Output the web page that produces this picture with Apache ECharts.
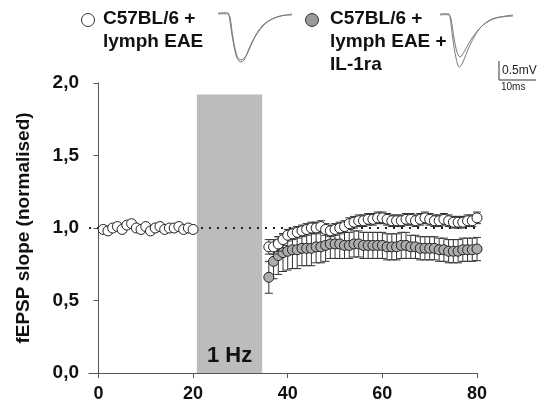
<!DOCTYPE html>
<html>
<head>
<meta charset="utf-8">
<script src="https://cdn.jsdelivr.net/npm/echarts@6/dist/echarts.min.js"></script>
<style>html,body{margin:0;padding:0;background:#fff;}#chart{width:542px;height:403px;}</style>
</head>
<body>
<div id="chart"></div>
<script>
// ---- data ----
const baseTime = [1,2,3,4,5,6,7,8,9,10,11,12,13,14,15,16,17,18,19,20];
const baseWhite = [0.99,0.98,1.00,1.01,0.99,1.02,1.03,1.00,0.99,1.01,0.98,1.00,1.01,0.99,1.00,1.00,1.01,0.99,1.00,0.99];
const baseWhiteErr = [0.02,0.02,0.02,0.02,0.02,0.02,0.02,0.02,0.02,0.02,0.02,0.02,0.02,0.02,0.02,0.02,0.02,0.02,0.02,0.02];
const postTime = [36,37,38,39,40,41,42,43,44,45,46,47,48,49,50,51,52,53,54,55,56,57,58,59,60,61,62,63,64,65,66,67,68,69,70,71,72,73,74,75,76,77,78,79,80];
const postWhite = [0.87,0.87,0.89,0.92,0.95,0.96,0.97,0.98,0.99,1.00,1.00,1.01,0.99,0.98,0.99,1.00,1.01,1.03,1.04,1.05,1.05,1.06,1.06,1.07,1.07,1.06,1.05,1.05,1.05,1.06,1.06,1.05,1.06,1.07,1.06,1.05,1.05,1.06,1.05,1.04,1.04,1.04,1.05,1.05,1.07];
const postWhiteErr = [0.05,0.05,0.05,0.04,0.04,0.04,0.04,0.04,0.04,0.04,0.04,0.04,0.04,0.04,0.04,0.04,0.04,0.04,0.04,0.04,0.04,0.04,0.04,0.04,0.04,0.04,0.04,0.04,0.04,0.04,0.04,0.04,0.04,0.04,0.04,0.04,0.04,0.04,0.04,0.04,0.04,0.04,0.04,0.04,0.04];
const postGray = [0.66,0.77,0.81,0.83,0.84,0.85,0.85,0.86,0.86,0.86,0.87,0.87,0.88,0.89,0.89,0.89,0.88,0.88,0.89,0.89,0.88,0.88,0.88,0.88,0.88,0.87,0.87,0.87,0.88,0.88,0.87,0.87,0.86,0.86,0.86,0.86,0.85,0.85,0.84,0.84,0.84,0.85,0.85,0.85,0.855];
const postGrayErr = [0.11,0.12,0.13,0.13,0.13,0.13,0.13,0.12,0.12,0.12,0.11,0.11,0.11,0.10,0.10,0.10,0.09,0.09,0.09,0.09,0.09,0.09,0.09,0.09,0.09,0.09,0.09,0.09,0.09,0.09,0.08,0.08,0.08,0.08,0.08,0.08,0.08,0.08,0.08,0.08,0.08,0.08,0.08,0.08,0.08];
const xTicks = [0,20,40,60,80];
const stimStart = 20.8, stimEnd = 34.6, stimTop = 1.92;
const stimLabel = '1 Hz';
const yName = 'fEPSP slope (normalised)';
const legend1 = 'C57BL/6 +\nlymph EAE';
const legend2 = 'C57BL/6 +\nlymph EAE +\nIL-1ra';

// ---- build ----
const FONT = '"Liberation Sans", Arial, sans-serif';
function pts(t, v) { return t.map((x, i) => [x, v[i]]); }
function errs(t, v, e) { return t.map((x, i) => [x, v[i] - e[i], v[i] + e[i]]); }
const whitePts = pts(baseTime, baseWhite).concat(pts(postTime, postWhite));
const whiteErr = errs(baseTime, baseWhite, baseWhiteErr).concat(errs(postTime, postWhite, postWhiteErr));
const grayPts = pts(postTime, postGray);
const grayErr = errs(postTime, postGray, postGrayErr);

function errRender(params, api) {
  const x = api.value(0);
  const lo = api.coord([x, api.value(1)]);
  const hi = api.coord([x, api.value(2)]);
  const w = 4;
  const st = { stroke: '#333', lineWidth: 1 };
  return { type: 'group', children: [
    { type: 'line', shape: { x1: lo[0], y1: lo[1], x2: hi[0], y2: hi[1] }, style: st },
    { type: 'line', shape: { x1: lo[0] - w, y1: lo[1], x2: lo[0] + w, y2: lo[1] }, style: st },
    { type: 'line', shape: { x1: hi[0] - w, y1: hi[1], x2: hi[0] + w, y2: hi[1] }, style: st }
  ]};
}

const chart = echarts.init(document.getElementById('chart'));
const traceStyle = { stroke: '#7a7a7a', lineWidth: 1, fill: null };
chart.setOption({
  animation: false,
  backgroundColor: '#fff',
  grid: { left: 89, right: 65, top: 83, bottom: 30, containLabel: false },
  xAxis: {
    type: 'value', min: -2, max: 80,
    splitLine: { show: false },
    axisLine: { lineStyle: { color: '#555', width: 1 } },
    axisTick: { customValues: xTicks, length: 5, lineStyle: { color: '#555' } },
    axisLabel: { customValues: xTicks, color: '#111', fontFamily: FONT, fontWeight: 'bold', fontSize: 18, margin: 12 }
  },
  yAxis: {
    type: 'value', min: 0, max: 2, interval: 0.5,
    splitLine: { show: false },
    axisLine: { show: true, lineStyle: { color: '#555', width: 1 } },
    axisTick: { show: true, length: 5, lineStyle: { color: '#555' } },
    axisLabel: { color: '#111', fontFamily: FONT, fontWeight: 'bold', fontSize: 19, margin: 10,
      formatter: v => v.toFixed(1).replace('.', ',') },
    name: yName, nameLocation: 'middle', nameGap: 56,
    nameTextStyle: { color: '#111', fontFamily: FONT, fontWeight: 'bold', fontSize: 19 }
  },
  series: [
    { type: 'scatter', data: [], silent: true,
      markArea: { silent: true, itemStyle: { color: '#bcbcbc' },
        label: { show: true, position: 'insideBottom', distance: 6, color: '#111', fontFamily: FONT, fontWeight: 'bold', fontSize: 22 },
        data: [[{ name: stimLabel, coord: [stimStart, 0] }, { coord: [stimEnd, stimTop] }]] },
      markLine: { silent: true, symbol: 'none', label: { show: false },
        lineStyle: { color: '#222', type: [2, 6], width: 2 },
        data: [{ yAxis: 1 }] }
    },
    { type: 'custom', renderItem: errRender, data: grayErr, encode: { x: 0, y: [1, 2] }, z: 2 },
    { type: 'scatter', data: grayPts, symbol: 'circle', symbolSize: 10, z: 3,
      itemStyle: { color: '#acacac', borderColor: '#222', borderWidth: 1, opacity: 1 } },
    { type: 'custom', renderItem: errRender, data: whiteErr, encode: { x: 0, y: [1, 2] }, z: 4 },
    { type: 'scatter', data: whitePts, symbol: 'circle', symbolSize: 10, z: 5,
      itemStyle: { color: '#ffffff', borderColor: '#222', borderWidth: 1, opacity: 1 } }
  ],
  graphic: [
    { type: 'circle', shape: { cx: 88, cy: 20, r: 6.5 }, style: { fill: '#fff', stroke: '#333', lineWidth: 1 } },
    { type: 'text', left: 103, top: 7, style: { text: legend1, fill: '#111', font: 'bold 19px ' + FONT, lineHeight: 23 } },
    { type: 'circle', shape: { cx: 312, cy: 20, r: 6.5 }, style: { fill: '#999', stroke: '#333', lineWidth: 1 } },
    { type: 'text', left: 330, top: 7, style: { text: legend2, fill: '#111', font: 'bold 19px ' + FONT, lineHeight: 23 } },
    { type: 'polyline', shape: { smooth: 0.3, points: [[218,13],[228,13],[229,15],[232,35],[236,55],[240,62],[244,60],[252,42],[262,26],[274,18],[292,14]] }, style: traceStyle },
    { type: 'polyline', shape: { smooth: 0.3, points: [[218,14],[228,14],[230,17],[233,38],[237,56],[241,60],[246,56],[255,37],[266,23],[280,16],[292,15]] }, style: traceStyle },
    { type: 'polyline', shape: { smooth: 0.3, points: [[440,14],[449,14],[450,17],[453,40],[456,58],[459,67],[462,64],[470,45],[480,28],[492,19],[513,15]] }, style: traceStyle },
    { type: 'polyline', shape: { smooth: 0.3, points: [[440,15],[449,15],[451,19],[454,38],[457,52],[460,57],[464,52],[472,38],[483,25],[496,18],[513,16]] }, style: traceStyle },
    { type: 'polyline', shape: { points: [[499,61],[499,80],[536,80]] }, style: { stroke: '#333', lineWidth: 1, fill: null } },
    { type: 'text', left: 502, top: 65, style: { text: '0.5mV', fill: '#222', font: '12px ' + FONT } },
    { type: 'text', left: 501, top: 82, style: { text: '10ms', fill: '#222', font: '10px ' + FONT } }
  ]
});
</script>
</body>
</html>
